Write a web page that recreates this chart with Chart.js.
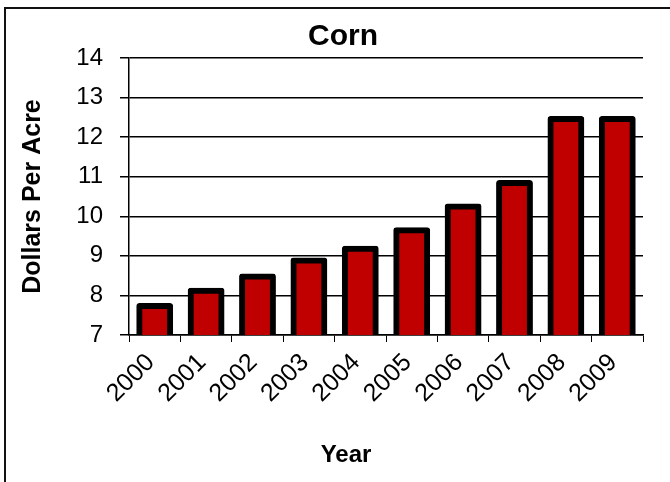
<!DOCTYPE html>
<html>
<head>
<meta charset="utf-8">
<script src="https://cdn.jsdelivr.net/npm/chart.js@4"></script>
<style>
    html, body { margin: 0; padding: 0; background: #fff; }
    #wrap { position: relative; width: 670px; height: 482px; overflow: hidden; }
    #frame {
        position: absolute; left: 4px; top: 7px; width: 700px; height: 500px;
        border-left: 2px solid #111; border-top: 2px solid #111;
    }
    canvas { position: absolute; left: 0; top: 0; }
</style>
</head>
<body>
<div id="wrap">
    <div id="frame"></div>
    <canvas id="cornChart" width="670" height="482"></canvas>
</div>
<script>
// Corn - dollars per acre by year
const years = ['2000', '2001', '2002', '2003', '2004', '2005', '2006', '2007', '2008', '2009'];
const dollarsPerAcre = [7.73, 8.12, 8.48, 8.88, 9.18, 9.65, 10.25, 10.84, 12.46, 12.46];
const yMin = 7;
const yMax = 14;

Chart.defaults.font.family = "'Liberation Sans', Arial, sans-serif";
Chart.defaults.color = '#000';

// Excel centres the "Year" title under the whole chart, not the plot area
const xTitlePlugin = {
    id: 'xTitle',
    afterDraw(chart) {
        const c = chart.ctx;
        c.save();
        c.font = "bold 24px 'Liberation Sans', Arial, sans-serif";
        c.fillStyle = '#000';
        c.textAlign = 'center';
        c.textBaseline = 'middle';
        c.fillText('Year', 346, 455);
        c.restore();
    }
};

const ctx = document.getElementById('cornChart').getContext('2d');

new Chart(ctx, {
    type: 'bar',
    data: {
        labels: years,
        datasets: [{
            label: 'Corn',
            data: dollarsPerAcre,
            backgroundColor: '#C00000',
            borderColor: '#000',
            borderWidth: 6,
            borderSkipped: false,
            borderRadius: 3,
            inflateAmount: 3,
            barPercentage: 0.6,
            categoryPercentage: 1
        }]
    },
    plugins: [xTitlePlugin],
    options: {
        responsive: false,
        animation: false,
        layout: {
            padding: { left: 43, right: 27, top: 0, bottom: 0 }
        },
        plugins: {
            legend: { display: false },
            tooltip: { enabled: false },
            title: {
                display: true,
                text: 'Corn',
                color: '#000',
                font: { size: 30, weight: 'bold' },
                padding: { top: 19, bottom: 3 }
            }
        },
        scales: {
            x: {
                afterFit: (scale) => { scale.height = 147; },
                grid: {
                    offset: true,
                    drawOnChartArea: false,
                    drawTicks: true,
                    tickLength: 7,
                    color: '#000',
                    lineWidth: 1
                },
                border: { display: true, color: '#000', width: 1.5 },
                ticks: {
                    color: '#000',
                    font: { size: 25 },
                    maxRotation: 45,
                    minRotation: 45,
                    padding: 6,
                    labelOffset: -4
                }
            },
            y: {
                min: yMin,
                max: yMax,
                afterFit: (scale) => { scale.width = 86; },
                grid: {
                    color: '#000',
                    lineWidth: 1.5,
                    tickLength: 9
                },
                border: { display: true, color: '#000', width: 1.5 },
                ticks: {
                    stepSize: 1,
                    color: '#000',
                    font: { size: 24 },
                    padding: 17
                },
                title: {
                    display: true,
                    text: 'Dollars Per Acre',
                    color: '#000',
                    font: { size: 25, weight: 'bold' },
                    padding: { top: -25, bottom: 0 }
                }
            }
        }
    }
});
</script>
</body>
</html>
